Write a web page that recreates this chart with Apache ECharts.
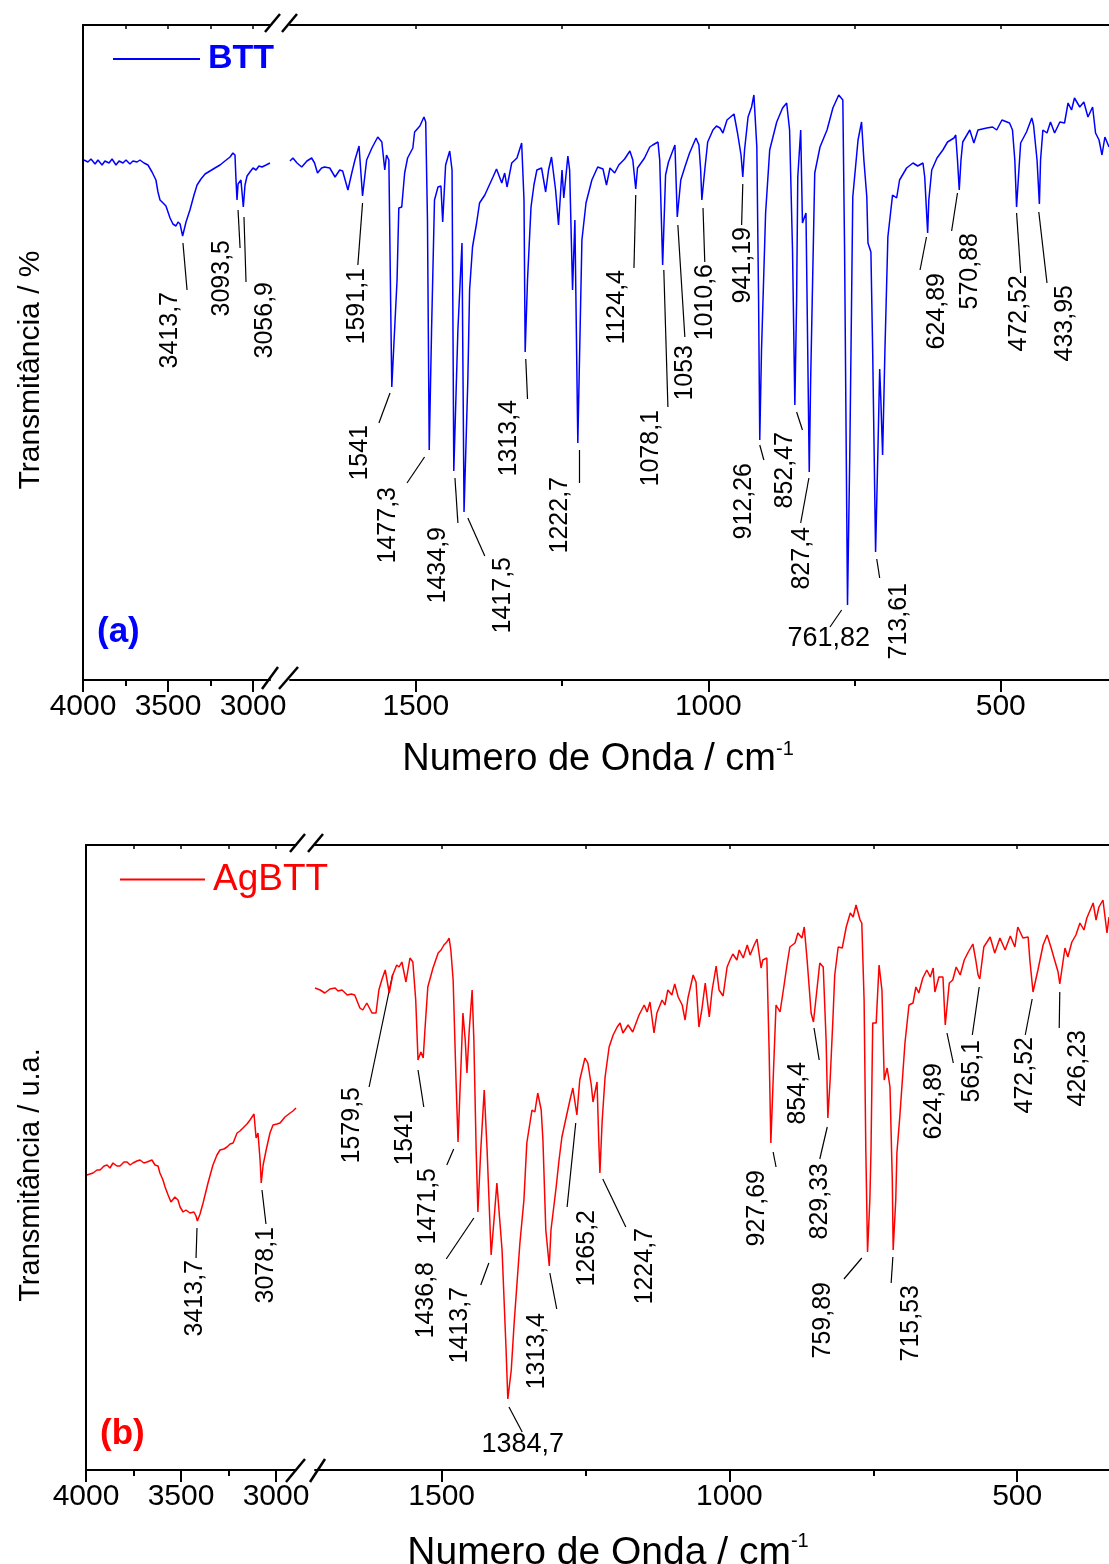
<!DOCTYPE html>
<html>
<head>
<meta charset="utf-8">
<script src="https://cdn.jsdelivr.net/npm/echarts@6/dist/echarts.min.js"></script>
<style>
html, body { margin: 0; padding: 0; background: #fff; }
#chart { width: 1109px; height: 1564px; }
</style>
</head>
<body>
<div id="chart"></div>
<script>
// ---- data: [wavenumber cm-1, transmittance (arb. units)] ----

// BTT, 4000-2900 segment
var bttHigh = [[3994,52.0],[3971,51.8],[3953,52.1],[3929,51.6],[3912,52.0],[3888,51.5],[3871,51.9],[3847,51.7],[3829,52.1],[3806,51.5],[3788,51.9],[3765,51.7],[3747,52.0],[3724,51.6],[3706,51.9],[3682,51.8],[3665,52.0],[3641,51.7],[3618,51.5],[3594,50.8],[3571,50.0],[3559,48.8],[3547,48.0],[3529,47.7],[3512,47.4],[3488,46.2],[3471,45.6],[3453,45.4],[3441,45.8],[3429,45.6],[3414,44.4],[3394,45.8],[3371,47.0],[3347,48.5],[3329,49.5],[3306,50.1],[3282,50.6],[3253,50.9],[3224,51.2],[3194,51.5],[3165,51.9],[3135,52.3],[3118,52.7],[3106,52.5],[3100,50.0],[3094,48.0],[3088,49.6],[3082,49.7],[3071,50.0],[3057,47.3],[3047,49.5],[3035,50.4],[3018,50.8],[3000,51.2],[2982,51.0],[2965,51.4],[2947,51.3],[2923,51.5],[2900,51.7]];

// BTT, 1715-315 segment
var bttLow = [[1715,51.9],[1710,52.2],[1703,51.7],[1695,51.3],[1686,51.9],[1678,52.2],[1673,51.7],[1668,50.7],[1661,51.2],[1656,51.3],[1647,51.2],[1638,50.3],[1630,51.0],[1625,50.9],[1616,49.0],[1609,50.8],[1604,52.0],[1597,53.4],[1591,48.4],[1584,52.0],[1575,53.2],[1565,54.3],[1558,53.8],[1553,51.0],[1550,52.5],[1546,52.0],[1543,38.0],[1541,29.3],[1532,40.0],[1529,47.2],[1524,47.3],[1519,50.7],[1514,52.2],[1505,53.2],[1502,54.8],[1493,55.4],[1486,56.3],[1483,55.8],[1480,46.0],[1477,23.0],[1473,35.0],[1468,48.0],[1462,49.3],[1457,49.4],[1454,45.8],[1449,51.5],[1442,52.9],[1438,51.0],[1435,20.9],[1428,35.0],[1421,43.7],[1417.5,16.8],[1411,30.0],[1408,39.0],[1403,43.3],[1396,45.7],[1391,47.7],[1382,48.5],[1368,50.3],[1362,51.1],[1353,49.7],[1348,50.7],[1344,49.3],[1336,51.7],[1327,52.2],[1319,53.7],[1315,48.0],[1313,32.8],[1309,40.0],[1303,47.3],[1298,49.5],[1293,51.0],[1285,51.2],[1278,48.8],[1273,51.0],[1268,52.3],[1261,49.0],[1256,45.5],[1250,51.0],[1247,48.2],[1240,52.4],[1237,51.0],[1232,39.0],[1228,46.0],[1223,23.7],[1216,44.0],[1209,47.7],[1199,50.0],[1189,51.3],[1180,51.1],[1174,49.5],[1168,51.2],[1160,50.7],[1153,51.5],[1143,52.1],[1134,52.9],[1129,52.0],[1124,49.1],[1121,51.2],[1109,52.2],[1100,53.3],[1095,53.5],[1086,53.8],[1083,52.0],[1078,41.5],[1073,50.5],[1068,51.8],[1057,53.5],[1053,46.3],[1047,50.0],[1040,51.3],[1032,52.7],[1021,54.2],[1016,53.5],[1013,51.0],[1011,48.0],[1006,51.0],[1001,53.8],[992,55.0],[986,55.4],[980,55.2],[975,54.7],[968,56.0],[956,56.6],[950,54.7],[944,52.5],[941,50.3],[938,53.0],[932,56.3],[926,57.3],[922,58.5],[917,53.3],[914,38.0],[912,24.0],[909,33.0],[902,46.7],[895,53.0],[883,55.8],[873,57.2],[866,57.7],[861,55.0],[856,43.0],[852,27.5],[849,38.0],[847,50.3],[842,55.0],[839,45.7],[833,46.7],[830,33.0],[827.4,20.8],[825,30.0],[818,50.7],[809,53.3],[797,55.0],[787,57.2],[777,58.5],[770,58.0],[767,43.0],[762,7.5],[758,23.0],[753,48.3],[744,54.0],[738,55.8],[734,52.0],[729,48.3],[727,43.7],[722,42.8],[719,33.0],[714,12.8],[710,23.0],[707,31.1],[705,28.0],[702,22.5],[698,33.0],[693,44.3],[685,48.5],[678,48.2],[673,50.0],[661,51.2],[650,51.7],[642,51.4],[633,51.7],[630,50.3],[625,44.7],[623,48.0],[618,51.0],[609,52.2],[599,53.0],[591,53.8],[580,54.2],[577,54.5],[574,52.0],[571,49.0],[568,52.0],[565,53.8],[553,55.0],[546,53.7],[539,55.0],[524,55.2],[514,55.3],[507,55.0],[498,56.0],[485,55.7],[480,55.0],[476,52.0],[473,47.3],[469,51.0],[466,53.7],[456,54.8],[447,56.2],[444,55.5],[438,52.0],[434,47.6],[432,52.0],[428,55.0],[421,54.7],[415,55.8],[408,54.7],[399,55.8],[391,55.7],[385,57.7],[379,57.0],[374,58.2],[365,57.3],[358,57.8],[351,56.3],[343,57.3],[338,54.7],[332,54.0],[327,52.5],[322,54.3],[315,53.3]];

// AgBTT, 4000-2895 segment
var agHigh = [[3995,29.5],[3963,29.7],[3942,30.0],[3926,30.0],[3905,30.4],[3889,30.5],[3874,30.2],[3858,30.7],[3837,30.4],[3821,30.4],[3800,30.8],[3784,30.8],[3768,30.5],[3753,30.7],[3732,30.9],[3716,31.0],[3695,30.7],[3679,30.8],[3653,31.0],[3637,30.5],[3621,30.4],[3611,29.7],[3595,29.0],[3584,28.3],[3568,27.5],[3553,26.8],[3532,27.3],[3516,27.0],[3505,26.3],[3489,25.8],[3474,26.0],[3453,25.7],[3432,25.8],[3421,25.4],[3414,24.9],[3400,25.6],[3384,26.7],[3358,28.7],[3332,30.5],[3311,31.5],[3295,32.0],[3274,32.1],[3258,32.3],[3242,32.6],[3226,32.7],[3205,33.7],[3190,33.9],[3174,34.2],[3153,34.6],[3137,35.0],[3116,35.6],[3105,33.2],[3095,33.7],[3084,31.0],[3078,28.7],[3068,30.5],[3052,32.0],[3032,33.7],[3016,34.5],[2995,34.6],[2979,34.7],[2953,35.3],[2926,35.7],[2911,35.9],[2895,36.2]];

// AgBTT, 1720-340 segment
var agLow = [[1720,48.2],[1711,48.0],[1703,47.7],[1694,48.1],[1685,48.2],[1680,47.9],[1673,48.0],[1664,47.5],[1657,47.6],[1651,47.5],[1642,46.2],[1637,46.0],[1630,46.7],[1621,45.7],[1614,45.7],[1609,48.0],[1604,49.0],[1598,50.0],[1591,47.7],[1585,49.5],[1578,50.5],[1574,50.3],[1569,50.8],[1562,48.8],[1555,51.2],[1550,50.8],[1545,47.0],[1541,41.0],[1536,41.8],[1532,41.2],[1529,44.0],[1524,48.3],[1515,50.2],[1506,51.7],[1501,52.0],[1496,52.5],[1491,52.8],[1487,53.2],[1484,52.0],[1480,49.0],[1475,39.0],[1471.5,32.8],[1466,41.0],[1463,45.7],[1459,43.0],[1456,39.7],[1452,44.0],[1447,48.0],[1444,43.0],[1440,32.0],[1437,25.8],[1432,32.0],[1426,38.0],[1421,32.0],[1414,21.5],[1409,25.0],[1404,28.7],[1395,22.0],[1388,12.0],[1385,7.1],[1379,10.0],[1374,14.7],[1364,22.7],[1357,27.0],[1352,32.7],[1343,36.0],[1338,35.8],[1333,37.7],[1327,36.0],[1324,33.0],[1319,24.0],[1313,20.4],[1310,24.0],[1301,28.3],[1296,31.0],[1291,33.3],[1282,35.7],[1277,37.0],[1272,38.2],[1265,35.5],[1260,39.0],[1251,41.2],[1246,40.7],[1240,38.5],[1237,36.8],[1230,38.8],[1227,33.0],[1225,29.7],[1221,35.0],[1216,39.3],[1209,42.3],[1202,43.5],[1195,44.3],[1190,44.7],[1185,43.7],[1176,44.5],[1168,43.8],[1157,45.5],[1148,46.5],[1143,45.8],[1138,46.8],[1131,43.7],[1126,45.7],[1117,47.0],[1112,46.5],[1107,48.0],[1100,47.5],[1095,48.6],[1089,47.3],[1082,46.5],[1077,45.0],[1072,47.2],[1063,49.5],[1058,48.8],[1053,44.3],[1048,46.0],[1042,48.7],[1035,45.3],[1030,48.0],[1023,50.4],[1018,48.0],[1011,47.4],[1004,50.3],[999,51.0],[994,51.6],[987,51.0],[983,52.0],[976,51.2],[969,52.5],[964,51.5],[957,52.5],[952,53.1],[945,50.2],[942,51.0],[935,51.2],[931,42.0],[928,32.7],[924,39.0],[919,46.5],[912,45.8],[905,48.5],[900,50.5],[895,52.3],[886,52.7],[881,53.7],[874,53.2],[870,54.3],[865,51.0],[858,45.7],[854,44.8],[848,48.0],[843,50.7],[837,50.3],[832,43.0],[829,35.2],[825,39.0],[820,45.3],[817,49.5],[811,52.3],[804,52.2],[797,54.3],[790,55.7],[785,55.3],[780,56.5],[773,55.0],[770,54.7],[766,47.0],[763,32.0],[760,21.8],[756,27.0],[754,32.0],[751,44.7],[745,44.7],[740,50.5],[735,48.0],[731,39.0],[726,40.2],[721,38.3],[717,29.0],[715.5,22.0],[711,27.0],[709,31.7],[704,35.3],[695,42.7],[688,46.5],[681,46.7],[676,48.3],[671,47.7],[664,49.2],[657,50.0],[651,49.3],[646,50.2],[643,47.8],[636,49.3],[629,49.3],[625,44.5],[618,48.7],[612,49.0],[606,50.3],[599,49.5],[592,51.0],[585,51.8],[577,52.6],[572,51.0],[568,49.5],[565,49.1],[558,52.3],[547,53.3],[539,51.7],[530,53.2],[521,52.0],[512,53.4],[504,52.3],[499,54.3],[490,53.2],[481,53.3],[478,51.0],[472.5,47.8],[464,50.0],[455,52.5],[448,53.5],[441,52.2],[434,50.8],[429,49.8],[426,48.6],[417,52.2],[412,51.3],[405,52.8],[398,53.5],[391,54.7],[384,54.0],[379,55.2],[368,56.7],[363,55.0],[358,56.3],[351,57.0],[344,53.7],[340.5,55.3]];

// tick labels
var highTicks = [3000, 3500, 4000];
var highMinor = [3250, 3750];
var highTop = [3000, 3250, 3500, 3750];
var lowTicks = [500, 1000, 1500];
var lowMinor = [750, 1250];
var lowTop = [500, 750, 1000, 1250, 1500];

// peak labels: [text, line from x,y, line to x,y, label x,y, vertical?]
var bttNotesHigh = [
  ['3413,7', 3412, 43.7, 3388, 39.0, 3488, 38.8, 1],
  ['3093,5', 3088, 47.0, 3076, 43.2, 3182, 44.0, 1],
  ['3056,9', 3053, 46.3, 3041, 39.8, 2930, 39.8, 1]
];
var bttNotesLow = [
  ['1591,1', 1591, 47.7, 1599, 41.5, 1601, 41.2, 1],
  ['1541', 1544, 28.7, 1563, 25.7, 1596, 25.5, 1],
  ['1477,3', 1485, 22.3, 1515, 19.7, 1548, 19.3, 1],
  ['1434,9', 1433, 20.2, 1428, 15.7, 1462, 15.3, 1],
  ['1417,5', 1411, 16.2, 1382, 12.4, 1351, 12.3, 1],
  ['1313,4', 1312, 32.1, 1309, 28.1, 1341, 28.0, 1],
  ['1222,7', 1221, 23.0, 1221, 19.7, 1254, 20.3, 1],
  ['1124,4', 1124, 48.5, 1127, 41.2, 1156, 41.0, 1],
  ['1078,1', 1076, 41.0, 1069, 27.3, 1097, 27.0, 1],
  ['1053', 1052, 45.5, 1040, 34.3, 1040, 33.5, 1],
  ['1010,6', 1009, 47.2, 1006, 41.8, 1006, 41.6, 1],
  ['941,19', 941, 49.6, 943, 45.5, 941, 45.3, 1],
  ['912,26', 912, 23.5, 905, 22.0, 939, 21.7, 1],
  ['852,47', 849, 26.8, 839, 25.0, 868, 24.8, 1],
  ['827,4', 828, 20.2, 842, 15.7, 840, 15.3, 1],
  ['761,82', 772, 7.0, 792, 5.3, 794, 4.1, 0],
  ['713,61', 712, 12.1, 707, 10.2, 674, 9.7, 1],
  ['624,89', 627, 44.3, 638, 41.0, 608, 40.7, 1],
  ['570,88', 574, 48.7, 584, 44.9, 553, 44.7, 1],
  ['472,52', 473, 46.7, 466, 40.7, 468, 40.5, 1],
  ['433,95', 435, 46.8, 421, 39.7, 390, 39.5, 1]
];
var agNotesHigh = [
  ['3413,7', 3416, 24.2, 3421, 21.2, 3426, 21.0, 1],
  ['3078,1', 3074, 28.0, 3053, 24.6, 3053, 24.3, 1]
];
var agNotesLow = [
  ['1579,5', 1585, 49.6, 1626, 38.3, 1656, 38.3, 1],
  ['1541', 1541, 40.0, 1531, 36.3, 1564, 36.0, 1],
  ['1471,5', 1479, 32.1, 1491, 30.5, 1524, 30.2, 1],
  ['1436,8', 1444, 25.2, 1492, 21.1, 1527, 20.8, 1],
  ['1413,7', 1418, 20.7, 1432, 18.5, 1468, 18.3, 1],
  ['1384,7', 1383, 6.3, 1360, 3.8, 1359, 2.5, 0],
  ['1313,4', 1312, 19.7, 1300, 16.1, 1334, 15.7, 1],
  ['1265,2', 1267, 34.7, 1282, 26.3, 1247, 26.0, 1],
  ['1224,7', 1220, 29.1, 1180, 24.3, 1147, 24.2, 1],
  ['927,69', 924, 31.8, 919, 30.3, 952, 30.0, 1],
  ['854,4', 853, 44.2, 844, 41.0, 881, 40.8, 1],
  ['829,33', 830, 34.3, 843, 31.1, 843, 30.7, 1],
  ['759,89', 770, 21.2, 801, 19.1, 837, 18.8, 1],
  ['715,53', 716, 21.3, 719, 18.7, 684, 18.5, 1],
  ['624,89', 622, 43.7, 611, 40.7, 645, 40.7, 1],
  ['565,1', 566, 48.3, 578, 43.5, 578, 43.0, 1],
  ['472,52', 474, 47.1, 486, 43.5, 486, 43.3, 1],
  ['426,23', 426, 47.8, 427, 44.2, 394, 44.0, 1]
];

var FONT = '"Liberation Sans", Arial, sans-serif';
var BLUE = '#0000ff';
var RED = '#ff0000';

var chart = echarts.init(document.getElementById('chart'));

// the four panes: top-left, top-right, bottom-left, bottom-right
var panes = [
  { grid: { left: 83, top: 25, width: 187, height: 655 }, min: 2900, max: 4000, ymax: 65.5, ticks: highTicks, minor: highMinor, top: highTop, spine: true },
  { grid: { left: 290, top: 25, right: 0, height: 655 }, min: 315, max: 1715, ymax: 65.5, ticks: lowTicks, minor: lowMinor, top: lowTop, spine: false },
  { grid: { left: 86, top: 845, width: 210, height: 625 }, min: 2895, max: 4000, ymax: 62.5, ticks: highTicks, minor: highMinor, top: highTop, spine: true },
  { grid: { left: 315, top: 845, right: 0, height: 625 }, min: 340.5, max: 1720, ymax: 62.5, ticks: lowTicks, minor: lowMinor, top: lowTop, spine: false }
];

var xAxes = [], yAxes = [];
panes.forEach(function (p, i) {
  var base = { gridIndex: i, type: 'value', min: p.min, max: p.max, inverse: true, splitLine: { show: false } };
  // bottom axis with labels
  xAxes.push(Object.assign({}, base, {
    position: 'bottom',
    axisLine: { lineStyle: { color: '#000', width: 2 } },
    axisTick: { customValues: p.ticks, length: 12, lineStyle: { color: '#000', width: 2 } },
    axisLabel: {
      customValues: p.ticks, fontSize: 30, fontFamily: FONT, color: '#000', margin: 12,
      formatter: function (v) { return String(v); }
    }
  }));
  // minor ticks
  xAxes.push(Object.assign({}, base, {
    position: 'bottom',
    axisLine: { show: false },
    axisTick: { customValues: p.minor, length: 6, lineStyle: { color: '#000', width: 2 } },
    axisLabel: { show: false }
  }));
  // top frame
  xAxes.push(Object.assign({}, base, {
    position: 'top',
    axisLine: { lineStyle: { color: '#000', width: 2 } },
    axisTick: { customValues: p.top, inside: true, length: 4, lineStyle: { color: '#000', width: 1.5 } },
    axisLabel: { show: false }
  }));
  yAxes.push({
    gridIndex: i, type: 'value', min: 0, max: p.ymax,
    axisLine: { show: p.spine, lineStyle: { color: '#000', width: 2 } },
    axisTick: { show: false }, axisLabel: { show: false }, splitLine: { show: false }
  });
});

function spectrum(name, data, pane, color) {
  return {
    name: name, type: 'line', xAxisIndex: pane * 3, yAxisIndex: pane,
    data: data, symbol: 'none', silent: true,
    lineStyle: { color: color, width: 1.5 }, itemStyle: { color: color }
  };
}

function leaders(notes, pane) {
  return {
    type: 'lines', coordinateSystem: 'cartesian2d', xAxisIndex: pane * 3, yAxisIndex: pane,
    silent: true, polyline: false,
    lineStyle: { color: '#000', width: 1.2, opacity: 1 },
    data: notes.map(function (n) { return { coords: [[n[1], n[2]], [n[3], n[4]]] }; })
  };
}

function noteLabels(notes, pane) {
  return {
    type: 'scatter', xAxisIndex: pane * 3, yAxisIndex: pane, silent: true,
    symbolSize: 1, itemStyle: { color: 'rgba(0,0,0,0)', opacity: 1 },
    label: {
      show: true, formatter: '{b}', position: 'inside', rotate: 90,
      align: 'right', verticalAlign: 'middle', opacity: 1,
      fontSize: 25, fontFamily: FONT, color: '#000',
      textBorderWidth: 0, textShadowBlur: 0
    },
    data: notes.map(function (n) {
      return {
        name: n[0], value: [n[5], n[6]],
        label: n[7] ? {} : { rotate: 0, align: 'center', fontSize: 27 }
      };
    })
  };
}

function slash(x1, y1, x2, y2) {
  return { type: 'line', shape: { x1: x1, y1: y1, x2: x2, y2: y2 }, style: { stroke: '#000', lineWidth: 2.5 }, silent: true };
}

function title(x, y, rot, txt, size) {
  return {
    type: 'text', x: x, y: y, rotation: rot, silent: true,
    style: { text: txt, fontSize: size, fontFamily: FONT, fill: '#000', align: 'center', verticalAlign: 'middle' }
  };
}

function xTitle(x, y, size) {
  return {
    type: 'text', x: x, y: y, silent: true,
    style: {
      text: '{a|Numero de Onda / cm}{b|-1}', align: 'center', verticalAlign: 'middle',
      rich: {
        a: { fontSize: size, fontFamily: FONT, fill: '#000', lineHeight: size + 4 },
        b: { fontSize: 20, fontFamily: FONT, fill: '#000', verticalAlign: 'top', lineHeight: 20 }
      }
    }
  };
}

chart.setOption({
  animation: false,
  backgroundColor: '#fff',
  grid: panes.map(function (p) { return p.grid; }),
  xAxis: xAxes,
  yAxis: yAxes,
  legend: [
    {
      data: ['BTT'], left: 108, top: 37, icon: 'rect', itemWidth: 87, itemHeight: 2, selectedMode: false,
      textStyle: { color: BLUE, fontWeight: 'bold', fontSize: 34, fontFamily: FONT, padding: [0, 0, 0, 3] }
    },
    {
      data: ['AgBTT'], left: 115, top: 856, icon: 'rect', itemWidth: 85, itemHeight: 2, selectedMode: false,
      textStyle: { color: RED, fontSize: 37, fontFamily: FONT, padding: [0, 0, 0, 3] }
    }
  ],
  series: [
    spectrum('BTT', bttHigh, 0, BLUE),
    spectrum('BTT', bttLow, 1, BLUE),
    spectrum('AgBTT', agHigh, 2, RED),
    spectrum('AgBTT', agLow, 3, RED),
    leaders(bttNotesHigh, 0), leaders(bttNotesLow, 1),
    leaders(agNotesHigh, 2), leaders(agNotesLow, 3),
    noteLabels(bttNotesHigh, 0), noteLabels(bttNotesLow, 1),
    noteLabels(agNotesHigh, 2), noteLabels(agNotesLow, 3)
  ],
  graphic: [
    // axis breaks
    slash(265, 32, 280, 14), slash(282, 32, 297, 14),
    slash(262, 689, 278, 667), slash(279, 689, 298, 667),
    slash(290, 852, 305, 834), slash(308, 852, 323, 834),
    slash(286, 1482, 305, 1459), slash(310, 1482, 325, 1459),
    // panel tags
    { type: 'text', x: 97, y: 632, silent: true, style: { text: '(a)', fontSize: 35, fontWeight: 'bold', fontFamily: FONT, fill: BLUE, verticalAlign: 'middle' } },
    { type: 'text', x: 100, y: 1434, silent: true, style: { text: '(b)', fontSize: 35, fontWeight: 'bold', fontFamily: FONT, fill: RED, verticalAlign: 'middle' } },
    // axis titles
    title(31, 370, Math.PI / 2, 'Transmitância / %', 30),
    title(31, 1175, Math.PI / 2, 'Transmitância / u.a.', 29),
    xTitle(598, 760, 38),
    xTitle(608, 1553, 39)
  ]
});
</script>
</body>
</html>
